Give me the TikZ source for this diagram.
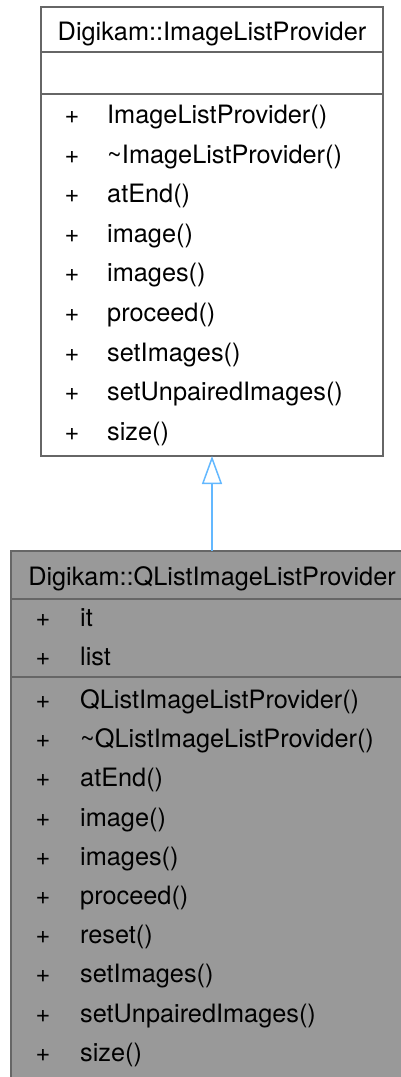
\documentclass[tikz,border=0pt]{standalone}
\usepackage{fontspec}
\setmainfont{TeX Gyre Heros}
\usepackage{tikz}
\usetikzlibrary{arrows.meta, positioning}
\definecolor{BoxLine}{HTML}{666666}
\definecolor{BoxFill}{HTML}{999999}
\definecolor{EdgeBlue}{HTML}{63B8FF}
\tikzset{
  part box/.style={
    rectangle, draw=BoxLine, line width=1.5pt, inner sep=0pt, outer sep=0pt,
    minimum width=#1
  },
  base part/.style={part box=342pt, fill=white},
  derived part/.style={part box=402pt, fill=BoxFill},
  uml text/.style={font=\fontsize{25.3}{30}\selectfont, inner sep=0pt, text=black},
  member sign/.style={uml text, anchor=base},
  member name/.style={uml text, anchor=base west},
  inherit arrow/.style={-{Triangle[open, length=28pt, width=20pt]}, line width=1.5pt, color=EdgeBlue},
}

\begin{document}
\begin{tikzpicture}[x=1pt, y=-1pt]

  \useasboundingbox (0,0) rectangle (401,1077);
  \clip (0,0) rectangle (401,1077);

  % ── Base class: Digikam::ImageListProvider ───────────────────────────────
  \node[base part, minimum height=45pt, anchor=north west] (basetitle) at (41,7) {};
  \node[base part, minimum height=42pt, below=0pt of basetitle] (baseattrs) {};
  \node[base part, minimum height=362pt, below=0pt of baseattrs] (basemethods) {};
  \node[uml text, anchor=base] (basename) at (212,40) {Digikam::ImageListProvider};

  \foreach \m [count=\i] in {ImageListProvider(), \textasciitilde ImageListProvider(), atEnd(), image(),
      images(), proceed(), setImages(), setUnpairedImages(), size()} {
    \node[member sign] (basesign\i) at (72,{123.5+(\i-1)*39.6}) {+};
    \node[member name] (basem\i) at (107,{123.5+(\i-1)*39.6}) {\m};
  }

  % ── Derived class: Digikam::QListImageListProvider ───────────────────────
  \node[derived part, minimum height=48pt, anchor=north west] (dertitle) at (11,551) {};
  \node[derived part, minimum height=78pt, below=0pt of dertitle] (derattrs) {};
  \node[derived part, minimum height=420pt, below=0pt of derattrs] (dermethods) {};
  \node[uml text, anchor=base] (dername) at (212,585) {Digikam::QListImageListProvider};

  \foreach \a [count=\i] in {it, list} {
    \node[member sign] (dasign\i) at (43,{626.5+(\i-1)*39.3}) {+};
    \node[member name] (dera\i) at (80,{626.5+(\i-1)*39.3}) {\a};
  }
  \foreach \m [count=\i] in {QListImageListProvider(), \textasciitilde QListImageListProvider(), atEnd(),
      image(), images(), proceed(), reset(), setImages(), setUnpairedImages(), size()} {
    \node[member sign] (dmsign\i) at (43,{708.5+(\i-1)*39.2}) {+};
    \node[member name] (derm\i) at (80,{708.5+(\i-1)*39.2}) {\m};
  }

  % ── Inheritance ──────────────────────────────────────────────────────────
  \draw[inherit arrow] (dertitle.north) -- (basemethods.south);

\end{tikzpicture}
\end{document}
